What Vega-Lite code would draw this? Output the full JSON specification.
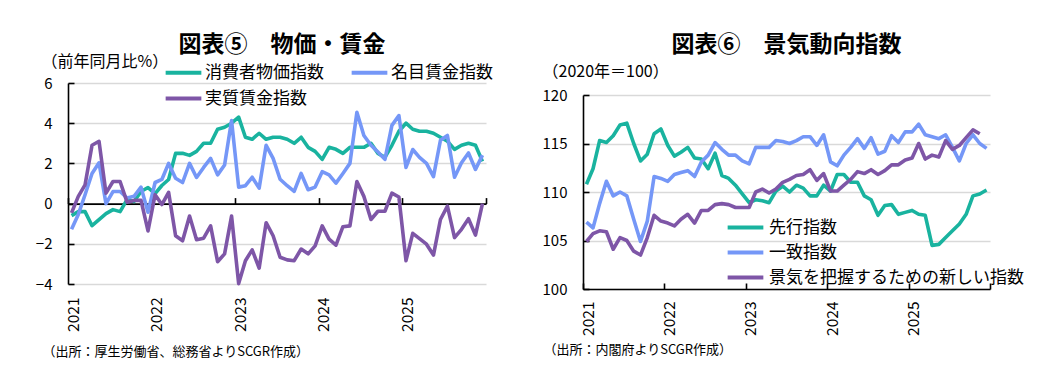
{
  "$schema": "https://vega.github.io/schema/vega-lite/v6.json",
  "padding": {"left": 35, "top": 34, "right": 0, "bottom": 0},
  "spacing": 97,
  "bounds": "flush",
  "resolve": {"scale": {"color": "independent"}, "legend": {"color": "independent"}},
  "config": {
    "font": "Noto Sans CJK JP",
    "view": {"stroke": null},
    "axis": {"labelColor": "#000", "titleColor": "#000", "labelFont": "Noto Sans CJK JP", "titleFont": "Noto Sans CJK JP"},
    "legend": {"labelColor": "#000", "labelFont": "Noto Sans CJK JP", "labelLimit": 400}
  },
  "datasets": {
    "left": [
      {"month": "2021-01", "消費者物価指数": -0.6, "名目賃金指数": -1.28, "実質賃金指数": -0.46},
      {"month": "2021-02", "消費者物価指数": -0.4, "名目賃金指数": -0.54, "実質賃金指数": 0.36},
      {"month": "2021-03", "消費者物価指数": -0.4, "名目賃金指数": 0.44, "実質賃金指数": 0.93},
      {"month": "2021-04", "消費者物価指数": -1.1, "名目賃金指数": 1.5, "実質賃金指数": 2.9},
      {"month": "2021-05", "消費者物価指数": -0.8, "名目賃金指数": 2.03, "実質賃金指数": 3.1},
      {"month": "2021-06", "消費者物価指数": -0.5, "名目賃金指数": 0.0, "実質賃金指数": 0.52},
      {"month": "2021-07", "消費者物価指数": -0.3, "名目賃金指数": 0.6, "実質賃金指数": 1.1},
      {"month": "2021-08", "消費者物価指数": -0.4, "名目賃金指数": 0.6, "実質賃金指数": 1.1},
      {"month": "2021-09", "消費者物価指数": 0.2, "名目賃金指数": 0.28, "実質賃金指数": 0.07},
      {"month": "2021-10", "消費者物価指数": 0.1, "名目賃金指数": 0.36, "実質賃金指数": 0.16},
      {"month": "2021-11", "消費者物価指数": 0.6, "名目賃金指数": 0.82, "実質賃金指数": 0.16},
      {"month": "2021-12", "消費者物価指数": 0.8, "名目賃金指数": -0.43, "実質賃金指数": -1.36},
      {"month": "2022-01", "消費者物価指数": 0.5, "名目賃金指数": 1.05, "実質賃金指数": 0.44},
      {"month": "2022-02", "消費者物価指数": 0.9, "名目賃金指数": 1.2, "実質賃金指数": -0.05},
      {"month": "2022-03", "消費者物価指数": 1.2, "名目賃金指数": 2.0, "実質賃金指数": 0.56},
      {"month": "2022-04", "消費者物価指数": 2.5, "名目賃金指数": 1.26, "実質賃金指数": -1.6},
      {"month": "2022-05", "消費者物価指数": 2.5, "名目賃金指数": 1.05, "実質賃金指数": -1.85},
      {"month": "2022-06", "消費者物価指数": 2.4, "名目賃金指数": 2.0, "実質賃金指数": -0.62},
      {"month": "2022-07", "消費者物価指数": 2.6, "名目賃金指数": 1.3, "実質賃金指数": -1.8},
      {"month": "2022-08", "消費者物価指数": 3.0, "名目賃金指数": 1.8, "実質賃金指数": -1.72},
      {"month": "2022-09", "消費者物価指数": 3.0, "名目賃金指数": 2.25, "実質賃金指数": -1.11},
      {"month": "2022-10", "消費者物価指数": 3.7, "名目賃金指数": 1.43, "実質賃金指数": -2.89},
      {"month": "2022-11", "消費者物価指数": 3.8, "名目賃金指数": 1.92, "実質賃金指数": -2.5},
      {"month": "2022-12", "消費者物価指数": 4.0, "名目賃金指数": 4.13, "実質賃金指数": -0.62},
      {"month": "2023-01", "消費者物価指数": 4.3, "名目賃金指数": 0.82, "実質賃金指数": -3.98},
      {"month": "2023-02", "消費者物価指数": 3.3, "名目賃金指数": 0.89, "実質賃金指数": -2.84},
      {"month": "2023-03", "消費者物価指数": 3.2, "名目賃金指数": 1.31, "実質賃金指数": -2.3},
      {"month": "2023-04", "消費者物価指数": 3.5, "名目賃金指数": 0.77, "実質賃金指数": -3.21},
      {"month": "2023-05", "消費者物価指数": 3.2, "名目賃金指数": 2.9, "実質賃金指数": -0.95},
      {"month": "2023-06", "消費者物価指数": 3.3, "名目賃金指数": 2.25, "実質賃金指数": -1.6},
      {"month": "2023-07", "消費者物価指数": 3.3, "名目賃金指数": 1.21, "実質賃金指数": -2.67},
      {"month": "2023-08", "消費者物価指数": 3.2, "名目賃金指数": 0.89, "実質賃金指数": -2.8},
      {"month": "2023-09", "消費者物価指数": 3.0, "名目賃金指数": 0.61, "実質賃金指数": -2.84},
      {"month": "2023-10", "消費者物価指数": 3.3, "名目賃金指数": 1.5, "実質賃金指数": -2.26},
      {"month": "2023-11", "消費者物価指数": 2.8, "名目賃金指数": 0.69, "実質賃金指数": -2.5},
      {"month": "2023-12", "消費者物価指数": 2.6, "名目賃金指数": 0.82, "実質賃金指数": -2.1},
      {"month": "2024-01", "消費者物価指数": 2.2, "名目賃金指数": 1.59, "実質賃金指数": -1.11},
      {"month": "2024-02", "消費者物価指数": 2.8, "名目賃金指数": 1.43, "実質賃金指数": -1.77},
      {"month": "2024-03", "消費者物価指数": 2.7, "名目賃金指数": 1.02, "実質賃金指数": -2.07},
      {"month": "2024-04", "消費者物価指数": 2.5, "名目賃金指数": 1.5, "実質賃金指数": -1.15},
      {"month": "2024-05", "消費者物価指数": 2.8, "名目賃金指数": 2.0, "実質賃金指数": -1.11},
      {"month": "2024-06", "消費者物価指数": 2.8, "名目賃金指数": 4.54, "実質賃金指数": 1.1},
      {"month": "2024-07", "消費者物価指数": 2.8, "名目賃金指数": 3.39, "実質賃金指数": 0.36},
      {"month": "2024-08", "消費者物価指数": 3.0, "名目賃金指数": 2.9, "実質賃金指数": -0.79},
      {"month": "2024-09", "消費者物価指数": 2.5, "名目賃金指数": 2.57, "実質賃金指数": -0.38},
      {"month": "2024-10", "消費者物価指数": 2.3, "名目賃金指数": 2.2, "実質賃金指数": -0.38},
      {"month": "2024-11", "消費者物価指数": 2.9, "名目賃金指数": 3.89, "実質賃金指数": 0.52},
      {"month": "2024-12", "消費者物価指数": 3.6, "名目賃金指数": 4.38, "実質賃金指数": 0.33},
      {"month": "2025-01", "消費者物価指数": 4.0, "名目賃金指数": 1.8, "実質賃金指数": -2.84},
      {"month": "2025-02", "消費者物価指数": 3.7, "名目賃金指数": 2.69, "実質賃金指数": -1.48},
      {"month": "2025-03", "消費者物価指数": 3.6, "名目賃金指数": 2.3, "実質賃金指数": -1.74},
      {"month": "2025-04", "消費者物価指数": 3.6, "名目賃金指数": 2.0, "実質賃金指数": -2.02},
      {"month": "2025-05", "消費者物価指数": 3.5, "名目賃金指数": 1.34, "実質賃金指数": -2.56},
      {"month": "2025-06", "消費者物価指数": 3.3, "名目賃金指数": 3.15, "実質賃金指数": -0.79},
      {"month": "2025-07", "消費者物価指数": 3.1, "名目賃金指数": 3.39, "実質賃金指数": -0.13},
      {"month": "2025-08", "消費者物価指数": 2.7, "名目賃金指数": 1.31, "実質賃金指数": -1.69},
      {"month": "2025-09", "消費者物価指数": 2.9, "名目賃金指数": 2.03, "実質賃金指数": -1.28},
      {"month": "2025-10", "消費者物価指数": 3.0, "名目賃金指数": 2.52, "実質賃金指数": -0.75},
      {"month": "2025-11", "消費者物価指数": 2.9, "名目賃金指数": 1.7, "実質賃金指数": -1.57},
      {"month": "2025-12", "消費者物価指数": 2.1, "名目賃金指数": 2.41, "実質賃金指数": 0.0}
    ],
    "right": [
      {"month": "2021-01", "先行指数": 110.8, "一致指数": 106.9, "景気を把握するための新しい指数": 104.9},
      {"month": "2021-02", "先行指数": 112.4, "一致指数": 106.3, "景気を把握するための新しい指数": 105.7},
      {"month": "2021-03", "先行指数": 115.3, "一致指数": 108.8, "景気を把握するための新しい指数": 106.0},
      {"month": "2021-04", "先行指数": 115.1, "一致指数": 111.1, "景気を把握するための新しい指数": 105.9},
      {"month": "2021-05", "先行指数": 115.8, "一致指数": 109.6, "景気を把握するための新しい指数": 104.1},
      {"month": "2021-06", "先行指数": 116.9, "一致指数": 110.0, "景気を把握するための新しい指数": 105.3},
      {"month": "2021-07", "先行指数": 117.1, "一致指数": 109.6, "景気を把握するための新しい指数": 105.0},
      {"month": "2021-08", "先行指数": 115.0, "一致指数": 107.2, "景気を把握するための新しい指数": 103.9},
      {"month": "2021-09", "先行指数": 113.2, "一致指数": 104.9, "景気を把握するための新しい指数": 103.5},
      {"month": "2021-10", "先行指数": 113.9, "一致指数": 107.0, "景気を把握するための新しい指数": 105.3},
      {"month": "2021-11", "先行指数": 116.0, "一致指数": 111.6, "景気を把握するための新しい指数": 107.6},
      {"month": "2021-12", "先行指数": 116.5, "一致指数": 111.4, "景気を把握するための新しい指数": 107.0},
      {"month": "2022-01", "先行指数": 114.8, "一致指数": 111.1, "景気を把握するための新しい指数": 106.8},
      {"month": "2022-02", "先行指数": 113.7, "一致指数": 111.8, "景気を把握するための新しい指数": 106.5},
      {"month": "2022-03", "先行指数": 114.1, "一致指数": 112.0, "景気を把握するための新しい指数": 107.2},
      {"month": "2022-04", "先行指数": 114.6, "一致指数": 112.2, "景気を把握するための新しい指数": 107.7},
      {"month": "2022-05", "先行指数": 113.5, "一致指数": 111.6, "景気を把握するための新しい指数": 106.8},
      {"month": "2022-06", "先行指数": 113.4, "一致指数": 113.1, "景気を把握するための新しい指数": 108.1},
      {"month": "2022-07", "先行指数": 112.4, "一致指数": 113.8, "景気を把握するための新しい指数": 108.1},
      {"month": "2022-08", "先行指数": 114.0, "一致指数": 115.1, "景気を把握するための新しい指数": 108.7},
      {"month": "2022-09", "先行指数": 111.7, "一致指数": 114.4, "景気を把握するための新しい指数": 108.8},
      {"month": "2022-10", "先行指数": 111.4, "一致指数": 113.8, "景気を把握するための新しい指数": 108.7},
      {"month": "2022-11", "先行指数": 110.7, "一致指数": 113.8, "景気を把握するための新しい指数": 108.4},
      {"month": "2022-12", "先行指数": 109.8, "一致指数": 113.2, "景気を把握するための新しい指数": 108.4},
      {"month": "2023-01", "先行指数": 108.9, "一致指数": 112.9, "景気を把握するための新しい指数": 108.4},
      {"month": "2023-02", "先行指数": 109.2, "一致指数": 114.6, "景気を把握するための新しい指数": 110.0},
      {"month": "2023-03", "先行指数": 109.1, "一致指数": 114.6, "景気を把握するための新しい指数": 110.3},
      {"month": "2023-04", "先行指数": 108.9, "一致指数": 114.6, "景気を把握するための新しい指数": 109.9},
      {"month": "2023-05", "先行指数": 110.1, "一致指数": 115.3, "景気を把握するための新しい指数": 110.3},
      {"month": "2023-06", "先行指数": 110.6, "一致指数": 115.2, "景気を把握するための新しい指数": 111.0},
      {"month": "2023-07", "先行指数": 110.0, "一致指数": 115.0, "景気を把握するための新しい指数": 111.3},
      {"month": "2023-08", "先行指数": 110.7, "一致指数": 115.3, "景気を把握するための新しい指数": 111.7},
      {"month": "2023-09", "先行指数": 110.4, "一致指数": 115.7, "景気を把握するための新しい指数": 111.8},
      {"month": "2023-10", "先行指数": 109.6, "一致指数": 115.7, "景気を把握するための新しい指数": 112.3},
      {"month": "2023-11", "先行指数": 109.6, "一致指数": 114.8, "景気を把握するための新しい指数": 111.2},
      {"month": "2023-12", "先行指数": 110.7, "一致指数": 115.9, "景気を把握するための新しい指数": 111.9},
      {"month": "2024-01", "先行指数": 110.1, "一致指数": 113.1, "景気を把握するための新しい指数": 110.1},
      {"month": "2024-02", "先行指数": 111.8, "一致指数": 112.7, "景気を把握するための新しい指数": 110.1},
      {"month": "2024-03", "先行指数": 111.8, "一致指数": 113.8, "景気を把握するための新しい指数": 110.7},
      {"month": "2024-04", "先行指数": 111.0, "一致指数": 114.6, "景気を把握するための新しい指数": 111.3},
      {"month": "2024-05", "先行指数": 111.0, "一致指数": 115.5, "景気を把握するための新しい指数": 112.1},
      {"month": "2024-06", "先行指数": 109.6, "一致指数": 114.5, "景気を把握するための新しい指数": 111.9},
      {"month": "2024-07", "先行指数": 109.2, "一致指数": 115.6, "景気を把握するための新しい指数": 112.3},
      {"month": "2024-08", "先行指数": 107.6, "一致指数": 113.9, "景気を把握するための新しい指数": 111.8},
      {"month": "2024-09", "先行指数": 108.6, "一致指数": 114.2, "景気を把握するための新しい指数": 112.2},
      {"month": "2024-10", "先行指数": 108.7, "一致指数": 115.8, "景気を把握するための新しい指数": 112.8},
      {"month": "2024-11", "先行指数": 107.7, "一致指数": 115.1, "景気を把握するための新しい指数": 112.8},
      {"month": "2024-12", "先行指数": 107.9, "一致指数": 116.2, "景気を把握するための新しい指数": 113.3},
      {"month": "2025-01", "先行指数": 108.1, "一致指数": 116.2, "景気を把握するための新しい指数": 113.5},
      {"month": "2025-02", "先行指数": 107.7, "一致指数": 117.0, "景気を把握するための新しい指数": 115.0},
      {"month": "2025-03", "先行指数": 107.6, "一致指数": 115.9, "景気を把握するための新しい指数": 113.4},
      {"month": "2025-04", "先行指数": 104.5, "一致指数": 115.7, "景気を把握するための新しい指数": 113.8},
      {"month": "2025-05", "先行指数": 104.6, "一致指数": 115.5, "景気を把握するための新しい指数": 113.6},
      {"month": "2025-06", "先行指数": 105.3, "一致指数": 115.9, "景気を把握するための新しい指数": 115.3},
      {"month": "2025-07", "先行指数": 106.0, "一致指数": 114.6, "景気を把握するための新しい指数": 114.4},
      {"month": "2025-08", "先行指数": 106.7, "一致指数": 113.2, "景気を把握するための新しい指数": 114.8},
      {"month": "2025-09", "先行指数": 107.7, "一致指数": 115.0, "景気を把握するための新しい指数": 115.6},
      {"month": "2025-10", "先行指数": 109.6, "一致指数": 115.9, "景気を把握するための新しい指数": 116.4},
      {"month": "2025-11", "先行指数": 109.8, "一致指数": 115.0, "景気を把握するための新しい指数": 116.0},
      {"month": "2025-12", "先行指数": 110.2, "一致指数": 114.5}
    ]
  },
  "hconcat": [
    {
      "width": 418,
      "height": 206,
      "title": {"text": "図表⑤　物価・賃金", "fontSize": 23, "fontWeight": "bold", "color": "#000", "anchor": "middle", "frame": "group", "dx": 5, "offset": -4},
      "data": {"name": "left"},
      "transform": [{"fold": ["消費者物価指数", "名目賃金指数", "実質賃金指数"], "as": ["series", "value"]}],
      "resolve": {"axis": {"x": "independent", "y": "independent"}},
      "layer": [
        {
          "mark": {"type": "line", "strokeWidth": 3.6, "strokeJoin": "round"},
          "encoding": {
            "x": {
              "field": "month", "type": "temporal", "timeUnit": "utcyearmonth", "bandPosition": 0.5,
              "scale": {"domain": [{"year": 2021, "month": 1, "date": 1, "utc": true}, {"year": 2026, "month": 1, "date": 1, "utc": true}]},
              "axis": {
                "orient": "bottom", "domain": false, "ticks": false, "grid": false,
                "values": [{"year": 2021, "month": 1, "date": 1, "utc": true}, {"year": 2022, "month": 1, "date": 1, "utc": true}, {"year": 2023, "month": 1, "date": 1, "utc": true}, {"year": 2024, "month": 1, "date": 1, "utc": true}, {"year": 2025, "month": 1, "date": 1, "utc": true}],
                "labelExpr": "utcFormat(datum.value, '%Y')",
                "labelAngle": 270, "labelAlign": "right", "labelBaseline": "middle", "labelOffset": 5, "labelPadding": 8, "labelFontSize": 15.5,
                "title": "（出所：厚生労働省、総務省よりSCGR作成）", "titleAnchor": "start", "titleAlign": "left", "titleBaseline": "middle",
                "titleX": -26, "titleY": 62, "titleFontSize": 13, "titleFontWeight": "normal"
              }
            },
            "y": {
              "field": "value", "type": "quantitative",
              "scale": {"domain": [-4, 6], "range": [201, 0], "nice": false, "zero": false},
              "axis": {
                "orient": "left", "values": [-4, -2, 0, 2, 4, 6], "domain": false, "ticks": false,
                "grid": true, "gridColor": "#d9d9d9", "gridWidth": 1.5,
                "labelFontSize": 15, "labelPadding": 16,
                "title": "（前年同月比%）", "titleAngle": 0, "titleAlign": "left", "titleBaseline": "middle",
                "titleX": -27, "titleY": -22, "titleFontSize": 16, "titleFontWeight": "normal"
              }
            },
            "color": {
              "field": "series", "type": "nominal",
              "scale": {"domain": ["消費者物価指数", "名目賃金指数", "実質賃金指数"], "range": ["#19b39f", "#7597f7", "#7e56a7"]},
              "legend": {
                "title": null, "orient": "none", "legendX": 105, "legendY": -21, "columns": 2, "direction": "horizontal", "padding": 0,
                "symbolType": "M-2.1,0L2.1,0", "symbolSize": 289, "symbolStrokeWidth": 4,
                "labelFontSize": 17, "labelOffset": 11, "columnPadding": 19, "rowPadding": 7
              }
            }
          }
        },
        {
          "mark": {"type": "point", "opacity": 0},
          "encoding": {
            "x": {
              "field": "month", "type": "temporal", "timeUnit": "utcyearmonth", "bandPosition": 0.5,
              "axis": {
                "orient": "top", "offset": -120.6, "labels": false, "grid": false, "title": null,
                "domainColor": "#000", "domainWidth": 1.6, "tickColor": "#000", "tickWidth": 1.6, "tickSize": 6,
                "values": [{"year": 2021, "month": 1, "date": 1, "utc": true}, {"year": 2022, "month": 1, "date": 1, "utc": true}, {"year": 2023, "month": 1, "date": 1, "utc": true}, {"year": 2024, "month": 1, "date": 1, "utc": true}, {"year": 2025, "month": 1, "date": 1, "utc": true}, {"year": 2026, "month": 1, "date": 1, "utc": true}]
              }
            },
            "y": {
              "field": "value", "type": "quantitative",
              "axis": {
                "orient": "right", "offset": -418, "labels": false, "grid": false, "title": null,
                "values": [-4, -2, 0, 2, 4, 6],
                "domainColor": "#000", "domainWidth": 1.6, "tickColor": "#000", "tickWidth": 1.6, "tickSize": 6
              }
            }
          }
        }
      ]
    },
    {
      "width": 407,
      "height": 206,
      "title": {"text": "図表⑥　景気動向指数", "fontSize": 23, "fontWeight": "bold", "color": "#000", "anchor": "middle", "frame": "group", "offset": 6},
      "data": {"name": "right"},
      "transform": [{"fold": ["先行指数", "一致指数", "景気を把握するための新しい指数"], "as": ["series", "value"]}],
      "resolve": {"axis": {"x": "independent", "y": "independent"}},
      "layer": [
        {
          "mark": {"type": "line", "strokeWidth": 3.6, "strokeJoin": "round"},
          "encoding": {
            "x": {
              "field": "month", "type": "temporal", "timeUnit": "utcyearmonth", "bandPosition": 0.5,
              "scale": {"domain": [{"year": 2021, "month": 1, "date": 1, "utc": true}, {"year": 2026, "month": 1, "date": 1, "utc": true}]},
              "axis": {
                "orient": "bottom", "domain": false, "ticks": false, "grid": false,
                "values": [{"year": 2021, "month": 1, "date": 1, "utc": true}, {"year": 2022, "month": 1, "date": 1, "utc": true}, {"year": 2023, "month": 1, "date": 1, "utc": true}, {"year": 2024, "month": 1, "date": 1, "utc": true}, {"year": 2025, "month": 1, "date": 1, "utc": true}],
                "labelExpr": "utcFormat(datum.value, '%Y')",
                "labelAngle": 270, "labelAlign": "right", "labelBaseline": "middle", "labelOffset": 5, "labelPadding": 12, "labelFontSize": 15.5,
                "title": "（出所：内閣府よりSCGR作成）", "titleAnchor": "start", "titleAlign": "left", "titleBaseline": "middle",
                "titleX": -40, "titleY": 60, "titleFontSize": 13, "titleFontWeight": "normal"
              }
            },
            "y": {
              "field": "value", "type": "quantitative",
              "scale": {"domain": [100, 120], "range": [206, 12], "nice": false, "zero": false},
              "axis": {
                "orient": "left", "values": [100, 105, 110, 115, 120], "domain": false, "ticks": false,
                "grid": true, "gridColor": "#d9d9d9", "gridWidth": 1.5,
                "labelFontSize": 15, "labelPadding": 16,
                "title": "（2020年＝100）", "titleAngle": 0, "titleAlign": "left", "titleBaseline": "middle",
                "titleX": -41, "titleY": -12, "titleFontSize": 16, "titleFontWeight": "normal"
              }
            },
            "color": {
              "field": "series", "type": "nominal",
              "scale": {"domain": ["先行指数", "一致指数", "景気を把握するための新しい指数"], "range": ["#19b39f", "#7597f7", "#7e56a7"]},
              "legend": {
                "title": null, "orient": "none", "legendX": 152, "legendY": 134, "columns": 1, "padding": 0,
                "symbolType": "M-2.1,0L2.1,0", "symbolSize": 289, "symbolStrokeWidth": 4,
                "labelFontSize": 17, "labelOffset": 13, "rowPadding": 6
              }
            }
          }
        },
        {
          "mark": {"type": "point", "opacity": 0},
          "encoding": {
            "x": {
              "field": "month", "type": "temporal", "timeUnit": "utcyearmonth", "bandPosition": 0.5,
              "axis": {
                "orient": "top", "offset": -206, "labels": false, "grid": false, "title": null,
                "domainColor": "#000", "domainWidth": 1.6, "tickColor": "#000", "tickWidth": 1.6, "tickSize": 6,
                "values": [{"year": 2021, "month": 1, "date": 1, "utc": true}, {"year": 2022, "month": 1, "date": 1, "utc": true}, {"year": 2023, "month": 1, "date": 1, "utc": true}, {"year": 2024, "month": 1, "date": 1, "utc": true}, {"year": 2025, "month": 1, "date": 1, "utc": true}, {"year": 2026, "month": 1, "date": 1, "utc": true}]
              }
            },
            "y": {
              "field": "value", "type": "quantitative",
              "axis": {
                "orient": "right", "offset": -407, "labels": false, "grid": false, "title": null,
                "values": [100, 105, 110, 115, 120],
                "domainColor": "#000", "domainWidth": 1.6, "tickColor": "#000", "tickWidth": 1.6, "tickSize": 6
              }
            }
          }
        }
      ]
    }
  ]
}
